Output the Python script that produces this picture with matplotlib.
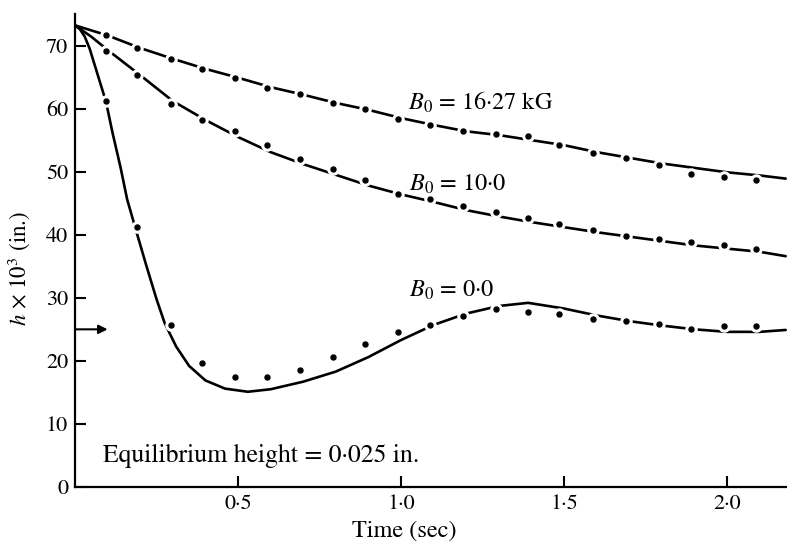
import matplotlib
matplotlib.use("Agg")
import matplotlib.pyplot as plt

# ---------------- data ----------------
# smooth curves (theory)
t_high = [0.0, 0.1, 0.2, 0.3, 0.4, 0.5, 0.6, 0.7, 0.8, 0.9, 1.0, 1.1, 1.2, 1.3,
          1.4, 1.5, 1.6, 1.7, 1.8, 1.9, 2.0, 2.1, 2.18]
h_high = [73.2, 71.6, 69.6, 67.9, 66.3, 64.9, 63.4, 62.2, 60.9, 59.8, 58.5, 57.4,
          56.4, 55.8, 55.0, 54.2, 53.1, 52.2, 51.3, 50.6, 49.9, 49.4, 48.9]

t_mid = [0.0, 0.05, 0.1, 0.2, 0.3, 0.4, 0.5, 0.6, 0.7, 0.8, 0.9, 1.0, 1.1, 1.2,
         1.3, 1.4, 1.5, 1.6, 1.7, 1.8, 1.9, 2.0, 2.1, 2.18]
h_mid = [73.2, 71.4, 69.3, 65.3, 61.2, 58.2, 55.5, 53.1, 51.2, 49.5, 47.8, 46.4,
         45.2, 43.9, 42.9, 42.0, 41.2, 40.4, 39.7, 39.0, 38.3, 37.8, 37.3, 36.6]

t_zero = [0.0, 0.015, 0.03, 0.045, 0.07, 0.095, 0.115, 0.14, 0.16, 0.19, 0.22,
          0.25, 0.275, 0.31, 0.35, 0.40, 0.46, 0.53, 0.6, 0.7, 0.8, 0.9, 1.0,
          1.1, 1.2, 1.3, 1.39, 1.5, 1.6, 1.7, 1.8, 1.9, 2.0, 2.1, 2.18]
h_zero = [73.2, 72.6, 71.4, 69.5, 65.3, 61.1, 56.2, 50.6, 45.6, 40.2, 34.9,
          29.8, 26.0, 22.3, 19.2, 16.9, 15.6, 15.1, 15.5, 16.7, 18.3, 20.6, 23.3,
          25.7, 27.5, 28.7, 29.2, 28.3, 27.2, 26.3, 25.6, 25.0, 24.6, 24.6, 24.9]

# measured points (experiment)
t_pts = [0.095, 0.19, 0.295, 0.39, 0.49, 0.59, 0.69, 0.79, 0.89, 0.99, 1.09,
         1.19, 1.29, 1.39, 1.485, 1.59, 1.69, 1.79, 1.89, 1.99, 2.09]
p_high = [71.7, 69.6, 67.9, 66.3, 64.9, 63.3, 62.3, 60.9, 59.9, 58.3, 57.4,
          56.4, 56.0, 55.6, 54.3, 53.0, 52.2, 51.0, 49.6, 49.1, 48.6]
p_mid = [69.1, 65.3, 60.7, 58.2, 56.4, 54.3, 52.0, 50.5, 48.6, 46.5, 45.6,
         44.5, 43.6, 42.7, 41.7, 40.7, 39.8, 39.4, 38.8, 38.3, 37.8]
p_zero = [61.2, 41.3, 25.7, 19.7, 17.5, 17.5, 18.6, 20.6, 22.6, 24.5, 25.7,
          27.1, 28.2, 27.8, 27.5, 26.7, 26.4, 25.8, 25.1, 25.5, 25.5]

equilibrium = 25.0
labels = ["$B_0$ = 16·27 kG", "$B_0$ = 10·0", "$B_0$ = 0·0"]
xticks = [0.5, 1.0, 1.5, 2.0]
xticklabels = ["0·5", "1·0", "1·5", "2·0"]
yticks = [0, 10, 20, 30, 40, 50, 60, 70]
yticklabels = ["0", "10", "20", "30", "40", "50", "60", "70"]

# ---------------- style ----------------
plt.rcParams["font.family"] = ["STIXGeneral", "DejaVu Serif"]
plt.rcParams["mathtext.fontset"] = "stix"

fig = plt.figure(figsize=(7.87, 5.44), dpi=100)
W, H = 787.0, 544.0
x0, x1, ybot, ytop = 75.0, 787.0, 487.0, 14.0
ax = fig.add_axes([x0 / W, 1 - ybot / H, (x1 - x0) / W, (ybot - ytop) / H])
ax.set_xlim(0, (x1 - x0) / 326.0)
ax.set_ylim(0, 75)

for s in ("top", "right"):
    ax.spines[s].set_visible(False)
for s in ("left", "bottom"):
    ax.spines[s].set_linewidth(1.6)

lw = 1.9
for tt, hh in ((t_high, h_high), (t_mid, h_mid), (t_zero, h_zero)):
    ax.plot(tt, hh, color="black", lw=lw, solid_capstyle="round",
            solid_joinstyle="round", zorder=2)

for pp in (p_high, p_mid, p_zero):
    ax.plot(t_pts, pp, ls="none", marker="o", ms=8.0, mfc="white", mec="white",
            zorder=3, clip_on=False)
    ax.plot(t_pts, pp, ls="none", marker="o", ms=3.6, mfc="black", mec="black",
            zorder=4, clip_on=False)

ax.annotate("", xy=(0.10, equilibrium), xytext=(0.0, equilibrium),
            arrowprops=dict(arrowstyle="-|>", lw=1.5, color="black",
                            mutation_scale=13, shrinkA=0, shrinkB=0))

ax.text(1.021, 59.9, labels[0], fontsize=17.5, ha="left", va="baseline")
ax.text(1.025, 47.0, labels[1], fontsize=17.5, ha="left", va="baseline")
ax.text(1.025, 30.1, labels[2], fontsize=17.5, ha="left", va="baseline")
ax.text(0.086, 4.0, "Equilibrium height = 0·025 in.", fontsize=18.5,
        ha="left", va="baseline")

ax.set_xticks(xticks)
ax.set_xticklabels(xticklabels)
ax.set_yticks(yticks)
ax.set_yticklabels(yticklabels)
ax.tick_params(axis="both", direction="in", length=8, width=1.5,
               labelsize=16, pad=5)

ax.set_xlabel("Time (sec)", fontsize=17.5, va="center")
ax.xaxis.set_label_coords((404 - x0) / (x1 - x0), (ybot - 531) / (ybot - ytop))
ax.set_ylabel(r"$h$ × $10^3$ (in.)", fontsize=16.5, va="center")
ax.yaxis.set_label_coords((19 - x0) / (x1 - x0), (ybot - 268) / (ybot - ytop))

fig.savefig("out.png", dpi=100)
